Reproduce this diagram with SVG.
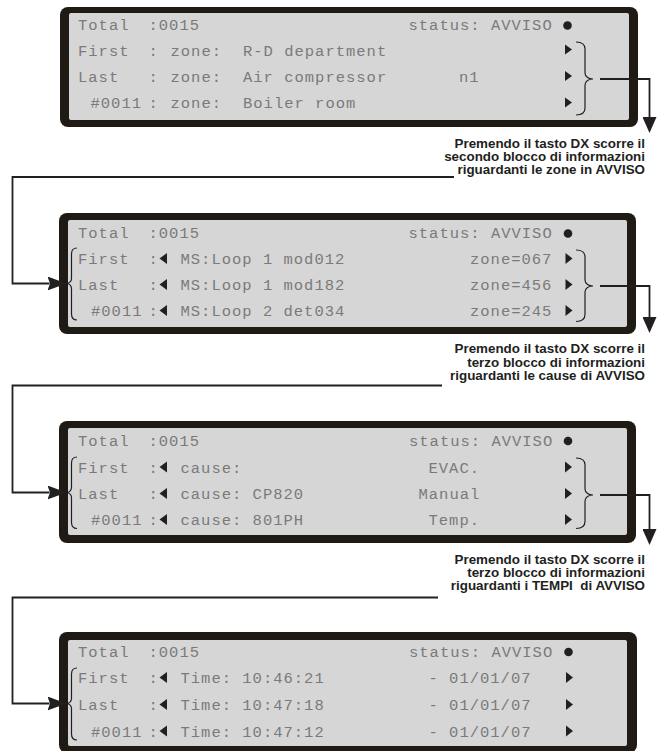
<svg xmlns="http://www.w3.org/2000/svg" width="657" height="751" viewBox="0 0 657 751">
<defs>
<style>
.frame{fill:#1f1a13}
.screen{fill:#d6d6d6}
.lcd{font-family:"Liberation Mono","DejaVu Sans Mono",monospace;font-size:15.5px;letter-spacing:1px;fill:#7a7a7a}
.mark{fill:#231f20}
.brace{fill:none;stroke:#231f20;stroke-width:1.2}
.note{font-family:"Liberation Sans",Arial,sans-serif;font-weight:bold;font-size:13.4px;fill:#231f20;text-anchor:end}
.wire{fill:none;stroke:#231f20;stroke-width:1.8}
</style>
<marker id="arrowDown" markerUnits="userSpaceOnUse" viewBox="0 0 16 14" refX="0" refY="7" markerWidth="16" markerHeight="14" orient="auto">
<path d="M0,0 L16,7 L0,14 Z" fill="#231f20"/>
</marker>
<marker id="arrowRight" markerUnits="userSpaceOnUse" viewBox="0 0 19 14" refX="2" refY="7" markerWidth="19" markerHeight="14" orient="auto">
<path d="M0,0 L19,7 L0,14 L2.5,7 Z" fill="#231f20"/>
</marker>
</defs>

<g id="panel-1">
<rect class="frame" x="60" y="7" width="578" height="120" rx="8"/>
<rect class="screen" x="69" y="13" width="560" height="107" rx="2"/>
<text class="lcd" y="30"><tspan x="78">Total</tspan><tspan x="148.5">:0015</tspan><tspan x="408.5">status: AVVISO</tspan></text>
<circle class="mark" cx="567.5" cy="25.5" r="4.3"/>
<text class="lcd" y="55.5"><tspan x="78">First</tspan><tspan x="148.5">:</tspan><tspan x="170.5">zone:</tspan><tspan x="243">R-D department</tspan></text>
<text class="lcd" y="82"><tspan x="78">Last</tspan><tspan x="148.5">:</tspan><tspan x="170.5">zone:</tspan><tspan x="243">Air compressor</tspan><tspan x="459">n1</tspan></text>
<text class="lcd" y="108"><tspan x="90.5">#0011</tspan><tspan x="148.5">:</tspan><tspan x="170.5">zone:</tspan><tspan x="243">Boiler room</tspan></text>
<polygon class="mark" points="565,44.5 572,49.5 565,54.5"/>
<polygon class="mark" points="565,71 572,76 565,81"/>
<polygon class="mark" points="565,97.5 572,102.5 565,107.5"/>
<path class="brace" d="M576,42 C581,42 585,44 585,49 L585,73 C585,77 589,79 593,79 C589,79 585,81 585,85 L585,108 C585,113 581,115 576,115"/>
</g>

<g id="note-1">
<text class="note" x="645" y="148">Premendo il tasto DX scorre il</text>
<text class="note" x="645" y="161">secondo blocco di informazioni</text>
<text class="note" x="645" y="174">riguardanti le zone in AVVISO</text>
</g>

<g id="panel-2">
<rect class="frame" x="59" y="213" width="577" height="121" rx="8"/>
<rect class="screen" x="68" y="220" width="559" height="107" rx="2"/>
<text class="lcd" y="238"><tspan x="78">Total</tspan><tspan x="148.5">:0015</tspan><tspan x="408.5">status: AVVISO</tspan></text>
<circle class="mark" cx="568" cy="233.5" r="4.3"/>
<text class="lcd" y="264"><tspan x="78">First</tspan><tspan x="148.5">:</tspan><tspan x="180.5">MS:Loop 1 mod012</tspan><tspan x="470">zone=067</tspan></text>
<text class="lcd" y="290"><tspan x="78">Last</tspan><tspan x="148.5">:</tspan><tspan x="180.5">MS:Loop 1 mod182</tspan><tspan x="470">zone=456</tspan></text>
<text class="lcd" y="316"><tspan x="91">#0011</tspan><tspan x="148.5">:</tspan><tspan x="180.5">MS:Loop 2 det034</tspan><tspan x="470">zone=245</tspan></text>
<polygon class="mark" points="159.5,258.5 167,253 167,264"/>
<polygon class="mark" points="159.5,284.5 167,279 167,290"/>
<polygon class="mark" points="159.5,310.5 167,305 167,316"/>
<polygon class="mark" points="565.5,253 572.5,258.5 565.5,264"/>
<polygon class="mark" points="565.5,279 572.5,284.5 565.5,290"/>
<polygon class="mark" points="565.5,305 572.5,310.5 565.5,316"/>
<path class="brace" d="M77,248 C74,248 71.5,250 71.5,254 L71.5,278.5 C71.5,281.5 69,283.5 66.5,283.5 C69,283.5 71.5,285.5 71.5,288.5 L71.5,314 C71.5,318 74,320 77,320"/>
<path class="brace" d="M576,250 C581,250 585,252 585,257 L585,280 C585,284 589,286 593,286 C589,286 585,288 585,292 L585,314.5 C585,319.5 581,321.5 576,321.5"/>
</g>

<g id="note-2">
<text class="note" x="645" y="353">Premendo il tasto DX scorre il</text>
<text class="note" x="645" y="366.5">terzo blocco di informazioni</text>
<text class="note" x="645" y="380">riguardanti le cause di AVVISO</text>
</g>

<g id="panel-3">
<rect class="frame" x="59" y="421" width="577" height="122" rx="8"/>
<rect class="screen" x="68" y="428" width="559" height="107" rx="2"/>
<text class="lcd" y="446"><tspan x="78">Total</tspan><tspan x="148.5">:0015</tspan><tspan x="409">status: AVVISO</tspan></text>
<circle class="mark" cx="568" cy="441" r="4.3"/>
<text class="lcd" y="472.5"><tspan x="78">First</tspan><tspan x="148.5">:</tspan><tspan x="180.5">cause:</tspan><tspan x="428.5">EVAC.</tspan></text>
<text class="lcd" y="499"><tspan x="78">Last</tspan><tspan x="148.5">:</tspan><tspan x="180.5">cause: CP820</tspan><tspan x="418.5">Manual</tspan></text>
<text class="lcd" y="525"><tspan x="91">#0011</tspan><tspan x="148.5">:</tspan><tspan x="180.5">cause: 801PH</tspan><tspan x="428.5">Temp.</tspan></text>
<polygon class="mark" points="159.5,467 167,461.5 167,472.5"/>
<polygon class="mark" points="159.5,493.5 167,488 167,499"/>
<polygon class="mark" points="159.5,519.5 167,514 167,525"/>
<polygon class="mark" points="565,461.5 572,467 565,472.5"/>
<polygon class="mark" points="565,488 572,493.5 565,499"/>
<polygon class="mark" points="565,514 572,519.5 565,525"/>
<path class="brace" d="M77,457 C74,457 71.5,459 71.5,463 L71.5,487.5 C71.5,490.5 69,492.5 66.5,492.5 C69,492.5 71.5,494.5 71.5,497.5 L71.5,522.5 C71.5,526.5 74,528.5 77,528.5"/>
<path class="brace" d="M576,458 C581,458 585,460 585,465 L585,489 C585,493 589,495 593,495 C589,495 585,497 585,501 L585,521.5 C585,526.5 581,528.5 576,528.5"/>
</g>

<g id="note-3">
<text class="note" x="645" y="563.5">Premendo il tasto DX scorre il</text>
<text class="note" x="645" y="577">terzo blocco di informazioni</text>
<text class="note" x="645" y="590">riguardanti i TEMPI&#160; di AVVISO</text>
</g>

<g id="panel-4">
<rect class="frame" x="59" y="632" width="578" height="121" rx="8"/>
<rect class="screen" x="68" y="640" width="559" height="106" rx="2"/>
<text class="lcd" y="657"><tspan x="78">Total</tspan><tspan x="148.5">:0015</tspan><tspan x="409">status: AVVISO</tspan></text>
<circle class="mark" cx="568.5" cy="652" r="4.3"/>
<text class="lcd" y="683"><tspan x="78">First</tspan><tspan x="148.5">:</tspan><tspan x="180.5">Time: 10:46:21</tspan><tspan x="428.5">- 01/01/07</tspan></text>
<text class="lcd" y="710"><tspan x="78">Last</tspan><tspan x="148.5">:</tspan><tspan x="180.5">Time: 10:47:18</tspan><tspan x="428.5">- 01/01/07</tspan></text>
<text class="lcd" y="736.5"><tspan x="91">#0011</tspan><tspan x="148.5">:</tspan><tspan x="180.5">Time: 10:47:12</tspan><tspan x="428.5">- 01/01/07</tspan></text>
<polygon class="mark" points="159.5,677.5 167,672 167,683"/>
<polygon class="mark" points="159.5,704.5 167,699 167,710"/>
<polygon class="mark" points="159.5,731 167,725.5 167,736.5"/>
<polygon class="mark" points="566,672 573,677.5 566,683"/>
<polygon class="mark" points="566,699 573,704.5 566,710"/>
<polygon class="mark" points="566,725.5 573,731 566,736.5"/>
<path class="brace" d="M77,668 C74,668 71.5,670 71.5,674 L71.5,698.5 C71.5,701.5 69,703.5 66.5,703.5 C69,703.5 71.5,705.5 71.5,708.5 L71.5,734 C71.5,738 74,740 77,740"/>
</g>

<g id="connectors">
<path class="wire" d="M600,79 H649.5 V117" marker-end="url(#arrowDown)"/>
<path class="wire" d="M454,177 H12.5 V283.5 H49.5" marker-end="url(#arrowRight)"/>
<path class="wire" d="M600,286 H649.5 V317" marker-end="url(#arrowDown)"/>
<path class="wire" d="M442,385.5 H12.5 V492.5 H49.5" marker-end="url(#arrowRight)"/>
<path class="wire" d="M600,495 H649.5 V529" marker-end="url(#arrowDown)"/>
<path class="wire" d="M438,597.5 H12.5 V703.5 H49.5" marker-end="url(#arrowRight)"/>
</g>
</svg>
